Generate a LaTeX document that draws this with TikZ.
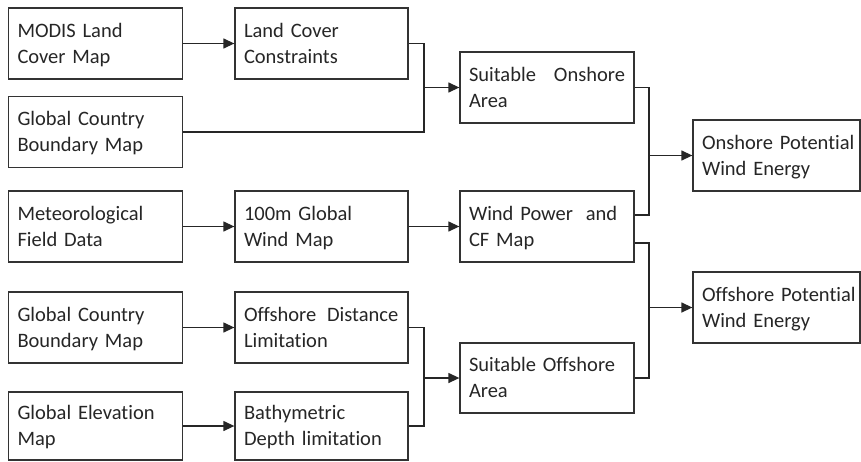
\documentclass[tikz,border=0pt]{standalone}
\usepackage{fontspec}
\setmainfont{Carlito}[Ligatures=NoCommon]
\usetikzlibrary{arrows.meta,calc}
\begin{document}
\begin{tikzpicture}[x=1pt,y=-1pt,
  line width=1.3pt,
  every node/.style={font=\fontsize{20.5}{26}\selectfont, text=black!85},
  box/.style={draw=black!80, rectangle, inner xsep=9pt, inner ysep=0pt, align=left,
    text width=#1-18pt, minimum width=#1, minimum height=71,
    execute at begin node={\rule{0pt}{20pt}},
    execute at end node={\rule[-7pt]{0pt}{7pt}}},
  box/.default=174,
  link/.style={draw=black!85, line width=1.3pt},
  arr/.style={link, -{Triangle[length=11pt,width=10pt]}}]
\fill[white] (0,0) rectangle (861,461);
\useasboundingbox (0,0) rectangle (861,461);
% column 1
\node[box] (m1) at (95.5,43.5) {MODIS Land\\Cover Map};
\node[box] (g1) at (95.5,132) {Global Country\\Boundary Map};
\node[box] (mf) at (95.5,226.5) {Meteorological\\Field Data};
\node[box] (g2) at (95.5,327.5) {Global Country\\Boundary Map};
\node[box, minimum height=68] (ge) at (95.5,426) {Global Elevation\\Map};
% column 2
\node[box=173] (lc) at (321.5,43.5) {Land Cover\\Constraints};
\node[box=173] (gw) at (321.5,226.5) {100m Global\\Wind Map};
\node[box=173] (od) at (321.5,327.5) {Offshore\hspace{4pt} Distance\\Limitation};
\node[box=173, minimum height=68] (bd) at (321.5,426) {Bathymetric\\\mbox{Depth limitation}};
% column 3
\node[box] (so) at (547,87.5) {Suitable\hfill Onshore\\Area};
\node[box] (wp) at (547,226.5) {Wind Power\hspace{6pt} and\\CF Map};
\node[box, minimum height=70] (sf) at (547,378) {\mbox{Suitable Offshore}\\Area};
% column 4
\node[box=167] (op) at (776.5,155.5) {\mbox{Onshore Potential}\\Wind Energy};
\node[box=167] (fp) at (776.5,307.5) {\mbox{Offshore Potential}\\Wind Energy};
% junctions
\coordinate (j1) at (424,87.5);
\coordinate (j2) at (649,155.5);
\coordinate (j3) at (649,307.5);
\coordinate (j4) at (424,378);
% straight arrows
\draw[arr] (m1.east) -- (lc.west);
\draw[arr] (mf.east) -- (gw.west);
\draw[arr] (gw.east) -- (wp.west);
\draw[arr] (g2.east) -- (od.west);
\draw[arr] (ge.east) -- (bd.west);
% brackets
\draw[link] (lc.east) -| (j1) |- (g1.east);
\draw[arr] (j1) -- (so.west);
\draw[link] (so.east) -| (j2) |- ($(wp.east)+(0,-11.5)$);
\draw[arr] (j2) -- (op.west);
\draw[link] ($(wp.east)+(0,16.5)$) -| (j3) |- (sf.east);
\draw[arr] (j3) -- (fp.west);
\draw[link] (od.east) -| (j4) |- (bd.east);
\draw[arr] (j4) -- (sf.west);
\end{tikzpicture}
\end{document}
